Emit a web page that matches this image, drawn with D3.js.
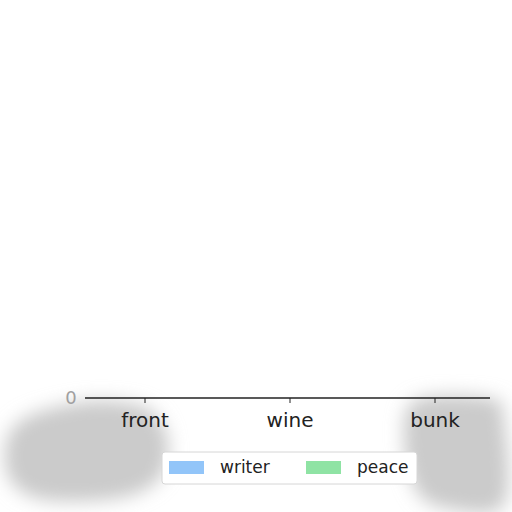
<!DOCTYPE html>
<html>
<head>
<meta charset="utf-8">
<script src="https://cdn.jsdelivr.net/npm/d3@7"></script>
<style>
  body { margin: 0; background: #fff; }
  svg { display: block; }
</style>
</head>
<body>
<svg id="chart" width="512" height="512"></svg>
<script>
// data
const categories = ["front", "wine", "bunk"]
const seriesNames = ["writer", "peace"]
const writerValues = [0, 0, 0]
const peaceValues = [0, 0, 0]
const yTicks = [0]
const colors = ["#92c5f9", "#8fe3a4"]

const svg = d3.select("#chart")

// soft grey smudges in the picture
const defs = svg.append("defs")
defs.append("filter")
  .attr("id", "smudge")
  .attr("x", "-30%").attr("y", "-30%")
  .attr("width", "160%").attr("height", "160%")
  .append("feGaussianBlur")
  .attr("stdDeviation", 9)

const blobs = [
  [[70, 404], [110, 401], [150, 410], [168, 440], [160, 478], [120, 498], [45, 500], [10, 480], [6, 442], [25, 418]],
  [[416, 400], [490, 398], [504, 418], [504, 505], [445, 508], [416, 490], [404, 440]]
]
svg.selectAll(".blob")
  .data(blobs)
  .join("path")
  .attr("class", "blob")
  .attr("d", (d) => d3.line().curve(d3.curveCardinalClosed)(d))
  .style("fill", "#cbcbcb")
  .style("filter", "url(#smudge)")

const x = d3.scaleBand()
  .domain(categories)
  .range([72.5, 507.5])
  .paddingInner(0.2)
  .paddingOuter(0.1)

const y = d3.scaleLinear()
  .domain([0, 1])
  .range([398, 40])

const xSub = d3.scaleBand()
  .domain(seriesNames)
  .range([0, x.bandwidth()])

const table = categories.map((c, i) => ({
  cat: c,
  values: [writerValues[i], peaceValues[i]]
}))

// bars (all zero height)
svg.selectAll(".grp")
  .data(table)
  .join("g")
  .attr("class", "grp")
  .attr("transform", (d) => `translate(${x(d.cat)},0)`)
  .selectAll("rect")
  .data((d) => d.values.map((v, j) => ({ name: seriesNames[j], v: v, j: j })))
  .join("rect")
  .attr("x", (d) => xSub(d.name))
  .attr("y", (d) => y(d.v))
  .attr("width", xSub.bandwidth())
  .attr("height", (d) => y(0) - y(d.v))
  .style("fill", (d) => colors[d.j])

// bottom spine
svg.append("line")
  .attr("x1", 85).attr("x2", 490)
  .attr("y1", y(0)).attr("y2", y(0))
  .attr("stroke", "#222")
  .attr("stroke-width", 1.4)

const xAxis = svg.append("g")
  .attr("transform", `translate(0,${y(0)})`)
  .call(d3.axisBottom(x).tickSize(5).tickPadding(10))
xAxis.select(".domain").remove()
xAxis.selectAll("line").attr("stroke", "#222")
xAxis.selectAll("text")
  .style("font-family", "DejaVu Sans")
  .style("font-size", "20px")
  .style("fill", "#222")

// y tick label
svg.selectAll(".ylab")
  .data(yTicks)
  .join("text")
  .attr("class", "ylab")
  .attr("x", 71)
  .attr("y", (d) => y(d) + 6)
  .attr("text-anchor", "middle")
  .style("font-family", "DejaVu Sans")
  .style("font-size", "18px")
  .style("fill", "#a0a0a0")
  .text((d) => d)

// legend
const legend = svg.append("g").attr("transform", "translate(162,452)")
legend.append("rect")
  .attr("width", 255).attr("height", 32)
  .attr("rx", 3)
  .style("fill", "#fff")
  .style("stroke", "#d6d6d6")
  .style("stroke-width", 1)

const items = legend.selectAll(".item")
  .data(seriesNames)
  .join("g")
  .attr("class", "item")
  .attr("transform", (d, i) => `translate(${7 + i * 137},0)`)
items.append("rect")
  .attr("x", 0).attr("y", 9)
  .attr("width", 35).attr("height", 13)
  .style("fill", (d, i) => colors[i])
items.append("text")
  .attr("x", 51).attr("y", 21)
  .style("font-family", "DejaVu Sans")
  .style("font-size", "17px")
  .style("fill", "#222")
  .text((d) => d)
</script>
</body>
</html>
